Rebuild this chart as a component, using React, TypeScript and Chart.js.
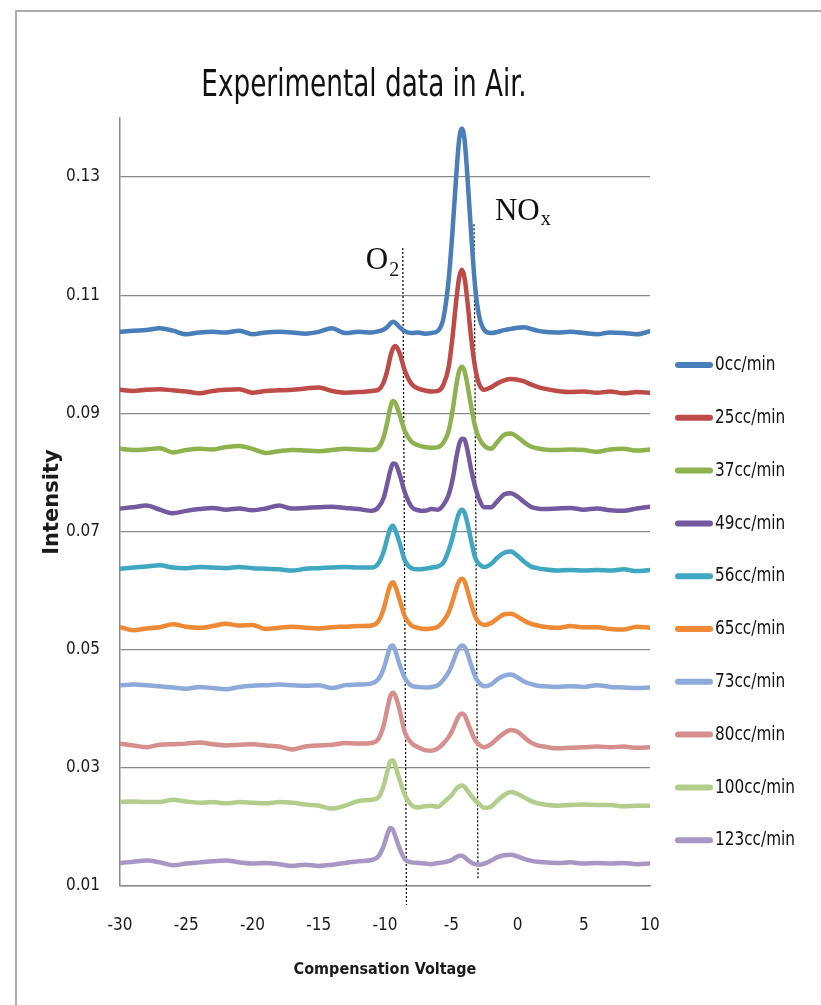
import React, { useEffect, useRef } from "react";
import { Chart, registerables } from "chart.js";

Chart.register(...registerables);

// Compensation voltage sample positions (shared by all series)
const CV = [
  -30, -29, -28, -27, -26, -25, -24, -23, -22, -21, -20, -19, -18, -17, -16, -15, -14, -13, -12,
  -11, -10.5, -10.1, -9.8, -9.6, -9.4, -9.2, -8.9, -8.5, -8, -7.5, -7, -6.5, -6,
  -5.6, -5.2, -4.9, -4.6, -4.4, -4.2, -4.0, -3.8, -3.5, -3.2, -2.9, -2.5, -2, -1.5, -1, -0.5, 0, 0.5, 1, 1.5,
  2, 3, 4, 5, 6, 7, 8, 9, 10,
];

const SERIES_LABELS = [
  "0cc/min", "25cc/min", "37cc/min", "49cc/min", "56cc/min",
  "65cc/min", "73cc/min", "80cc/min", "100cc/min", "123cc/min",
];

const FLOW_0 = [
  0.1038, 0.1040, 0.1041, 0.1044, 0.1040, 0.1034, 0.1037, 0.1038, 0.1037, 0.1040, 0.1034, 0.1037, 0.1038, 0.1037, 0.1035, 0.1038, 0.1044, 0.1036, 0.1038,
  0.1037, 0.1039, 0.1042, 0.1047, 0.1052, 0.1055, 0.1053, 0.1046, 0.1039, 0.1036, 0.1037, 0.1035, 0.1036, 0.1040,
  0.1060, 0.1125, 0.1210, 0.1310, 0.1364, 0.1382, 0.1364, 0.1308, 0.1205, 0.1115, 0.1065, 0.1041, 0.1036, 0.1038, 0.1041, 0.1043, 0.1045, 0.1046, 0.1043, 0.1040,
  0.1038, 0.1037, 0.1038, 0.1036, 0.1034, 0.1037, 0.1036, 0.1034, 0.1039,
];
const FLOW_25 = [
  0.0940, 0.0938, 0.0940, 0.0941, 0.0939, 0.0937, 0.0934, 0.0938, 0.0940, 0.0941, 0.0935, 0.0938, 0.0939, 0.0940, 0.0942, 0.0944, 0.0938, 0.0935, 0.0936,
  0.0938, 0.0940, 0.0953, 0.0975, 0.0996, 0.1010, 0.1014, 0.1002, 0.0972, 0.0950, 0.0942, 0.0939, 0.0937, 0.0938,
  0.0948, 0.0978, 0.1030, 0.1096, 0.1130, 0.1143, 0.1130, 0.1094, 0.1028, 0.0978, 0.0950, 0.0940, 0.0944, 0.0951, 0.0956, 0.0958, 0.0957, 0.0954, 0.0949, 0.0945,
  0.0942, 0.0938, 0.0936, 0.0937, 0.0935, 0.0937, 0.0934, 0.0936, 0.0935,
];
const FLOW_37 = [
  0.0840, 0.0838, 0.0839, 0.0841, 0.0834, 0.0838, 0.0840, 0.0839, 0.0843, 0.0845, 0.0840, 0.0833, 0.0836, 0.0838, 0.0837, 0.0836, 0.0838, 0.0840, 0.0839,
  0.0838, 0.0842, 0.0860, 0.0888, 0.0910, 0.0921, 0.0917, 0.0898, 0.0870, 0.0852, 0.0846, 0.0843, 0.0842, 0.0843,
  0.0850, 0.0870, 0.0905, 0.0950, 0.0972, 0.0979, 0.0972, 0.0951, 0.0912, 0.0878, 0.0858, 0.0845, 0.0840, 0.0852, 0.0864, 0.0866, 0.0860, 0.0851, 0.0844, 0.0841,
  0.0839, 0.0838, 0.0839, 0.0838, 0.0835, 0.0839, 0.0840, 0.0837, 0.0839,
];
const FLOW_49 = [
  0.0739, 0.0741, 0.0744, 0.0737, 0.0731, 0.0735, 0.0738, 0.0740, 0.0737, 0.0739, 0.0736, 0.0739, 0.0744, 0.0739, 0.0740, 0.0741, 0.0742, 0.0740, 0.0738,
  0.0735, 0.0741, 0.0757, 0.0784, 0.0803, 0.0815, 0.0814, 0.0797, 0.0766, 0.0742, 0.0736, 0.0735, 0.0738, 0.0737,
  0.0745, 0.0762, 0.0788, 0.0827, 0.0848, 0.0857, 0.0856, 0.0840, 0.0805, 0.0776, 0.0755, 0.0741, 0.0741, 0.0752, 0.0763, 0.0765, 0.0759, 0.0750, 0.0742, 0.0739,
  0.0738, 0.0739, 0.0740, 0.0737, 0.0739, 0.0736, 0.0735, 0.0739, 0.0742,
];
const FLOW_56 = [
  0.0637, 0.0639, 0.0641, 0.0643, 0.0639, 0.0638, 0.0640, 0.0639, 0.0638, 0.0640, 0.0638, 0.0637, 0.0636, 0.0634, 0.0637, 0.0638, 0.0639, 0.0640, 0.0639,
  0.0639, 0.0646, 0.0666, 0.0691, 0.0705, 0.0710, 0.0701, 0.0681, 0.0651, 0.0638, 0.0636, 0.0637, 0.0639, 0.0641,
  0.0647, 0.0668, 0.0690, 0.0718, 0.0732, 0.0737, 0.0732, 0.0716, 0.0685, 0.0656, 0.0645, 0.0640, 0.0645, 0.0656, 0.0664, 0.0666, 0.0659, 0.0649, 0.0641, 0.0638,
  0.0636, 0.0634, 0.0635, 0.0634, 0.0635, 0.0634, 0.0636, 0.0633, 0.0635,
];
const FLOW_65 = [
  0.0538, 0.0533, 0.0536, 0.0538, 0.0543, 0.0539, 0.0537, 0.0540, 0.0544, 0.0541, 0.0542, 0.0535, 0.0537, 0.0539, 0.0537, 0.0536, 0.0538, 0.0539, 0.0540,
  0.0541, 0.0548, 0.0569, 0.0595, 0.0609, 0.0614, 0.0606, 0.0585, 0.0556, 0.0541, 0.0537, 0.0535, 0.0536, 0.0539,
  0.0548, 0.0563, 0.0582, 0.0605, 0.0616, 0.0620, 0.0616, 0.0602, 0.0578, 0.0557, 0.0546, 0.0542, 0.0545, 0.0553, 0.0560, 0.0561, 0.0556, 0.0549, 0.0544, 0.0541,
  0.0539, 0.0537, 0.0540, 0.0538, 0.0538, 0.0535, 0.0534, 0.0539, 0.0537,
];
const FLOW_73 = [
  0.0440, 0.0441, 0.0440, 0.0438, 0.0436, 0.0434, 0.0437, 0.0435, 0.0433, 0.0437, 0.0439, 0.0440, 0.0441, 0.0440, 0.0439, 0.0440, 0.0435, 0.0440, 0.0441,
  0.0443, 0.0450, 0.0468, 0.0491, 0.0505, 0.0507, 0.0497, 0.0475, 0.0452, 0.0439, 0.0437, 0.0436, 0.0437, 0.0440,
  0.0449, 0.0462, 0.0477, 0.0495, 0.0503, 0.0507, 0.0505, 0.0495, 0.0474, 0.0455, 0.0444, 0.0438, 0.0441, 0.0450, 0.0456, 0.0458, 0.0453, 0.0446, 0.0442, 0.0439,
  0.0438, 0.0437, 0.0438, 0.0437, 0.0440, 0.0437, 0.0436, 0.0435, 0.0436,
];
const FLOW_80 = [
  0.0341, 0.0338, 0.0335, 0.0339, 0.0340, 0.0341, 0.0343, 0.0340, 0.0338, 0.0339, 0.0340, 0.0338, 0.0336, 0.0331, 0.0336, 0.0338, 0.0339, 0.0342, 0.0341,
  0.0342, 0.0349, 0.0372, 0.0403, 0.0421, 0.0427, 0.0421, 0.0398, 0.0360, 0.0342, 0.0335, 0.0330, 0.0329, 0.0333,
  0.0341, 0.0352, 0.0364, 0.0380, 0.0389, 0.0392, 0.0389, 0.0379, 0.0362, 0.0347, 0.0339, 0.0335, 0.0340, 0.0350, 0.0359, 0.0364, 0.0361, 0.0352, 0.0343, 0.0338,
  0.0336, 0.0333, 0.0334, 0.0335, 0.0336, 0.0335, 0.0336, 0.0334, 0.0335,
];
const FLOW_100 = [
  0.0242, 0.0243, 0.0242, 0.0242, 0.0246, 0.0243, 0.0241, 0.0242, 0.0240, 0.0242, 0.0241, 0.0240, 0.0242, 0.0241, 0.0238, 0.0236, 0.0231, 0.0236, 0.0244,
  0.0246, 0.0250, 0.0270, 0.0296, 0.0311, 0.0313, 0.0302, 0.0280, 0.0254, 0.0237, 0.0233, 0.0235, 0.0236, 0.0234,
  0.0241, 0.0249, 0.0256, 0.0265, 0.0269, 0.0270, 0.0268, 0.0262, 0.0253, 0.0245, 0.0239, 0.0232, 0.0234, 0.0245, 0.0254, 0.0259, 0.0256, 0.0250, 0.0244, 0.0240,
  0.0238, 0.0236, 0.0237, 0.0238, 0.0237, 0.0237, 0.0235, 0.0236, 0.0236,
];
const FLOW_123 = [
  0.0139, 0.0141, 0.0143, 0.0140, 0.0135, 0.0138, 0.0140, 0.0142, 0.0143, 0.0140, 0.0138, 0.0139, 0.0137, 0.0134, 0.0136, 0.0134, 0.0136, 0.0139, 0.0142,
  0.0144, 0.0150, 0.0168, 0.0189, 0.0198, 0.0195, 0.0183, 0.0164, 0.0145, 0.0140, 0.0139, 0.0138, 0.0137, 0.0139,
  0.0140, 0.0142, 0.0145, 0.0149, 0.0151, 0.0151, 0.0149, 0.0145, 0.0140, 0.0137, 0.0136, 0.0138, 0.0143, 0.0149, 0.0152, 0.0153, 0.0150, 0.0146, 0.0143, 0.0141,
  0.0140, 0.0139, 0.0140, 0.0138, 0.0139, 0.0138, 0.0139, 0.0137, 0.0138,
];

const SERIES_VALUES = [
  FLOW_0, FLOW_25, FLOW_37, FLOW_49, FLOW_56,
  FLOW_65, FLOW_73, FLOW_80, FLOW_100, FLOW_123,
];

const SERIES_COLORS = [
  "#4A7EBB", "#BE4B48", "#8DB24E", "#7559A0", "#3FA7C2",
  "#EE8A35", "#8EAADB", "#D68F8D", "#B2CD8C", "#A896C4",
];

const X_TICKS = [-30, -25, -20, -15, -10, -5, 0, 5, 10];
const Y_TICKS = [0.01, 0.03, 0.05, 0.07, 0.09, 0.11, 0.13];

// Marker lines (dotted) for the two peaks: [top, bottom] points
const O2_MARKER_X = [-8.66, -8.38];
const O2_MARKER_Y = [0.118, 0.0068];
const NOX_MARKER_X = [-3.28, -2.98];
const NOX_MARKER_Y = [0.122, 0.011];

const TITLE = "Experimental data in Air.";
const COND = "'DejaVu Sans Condensed', 'Liberation Sans', sans-serif";
const SERIF = "'Liberation Serif', 'DejaVu Serif', serif";

const overlayPlugin = {
  id: "overlay",
  afterDraw(chart: any) {
    const { ctx, chartArea, scales } = chart;
    const xs = scales.x;
    const ys = scales.y;
    ctx.save();
    // Title (horizontally condensed)
    ctx.fillStyle = "#111";
    ctx.font = `37px ${COND}`;
    ctx.textAlign = "center";
    ctx.textBaseline = "alphabetic";
    ctx.save();
    ctx.translate(356, 88);
    ctx.scale(0.79, 1);
    ctx.fillText(TITLE, 0, 0);
    ctx.restore();

    // Peak labels
    ctx.textAlign = "left";
    ctx.font = `31px ${SERIF}`;
    const ox = xs.getPixelForValue(-11.45);
    const oy = ys.getPixelForValue(0.1144);
    ctx.fillText("O", ox, oy);
    const ow = ctx.measureText("O").width;
    ctx.font = `20px ${SERIF}`;
    ctx.fillText("2", ox + ow + 1, oy + 7);

    ctx.font = `31px ${SERIF}`;
    const nx = xs.getPixelForValue(-1.7);
    const ny = ys.getPixelForValue(0.1227);
    ctx.fillText("NO", nx, ny);
    const nw = ctx.measureText("NO").width;
    ctx.font = `20px ${SERIF}`;
    ctx.fillText("x", nx + nw + 1, ny + 5);

    // Legend
    ctx.font = `20px ${COND}`;
    ctx.textBaseline = "middle";
    const lx = chartArea.right + 25;
    SERIES_LABELS.forEach((label, i) => {
      const y = chartArea.top + 247 + i * 52.8;
      ctx.strokeStyle = SERIES_COLORS[i];
      ctx.lineWidth = 6;
      ctx.lineCap = "round";
      ctx.beginPath();
      ctx.moveTo(lx + 3, y);
      ctx.lineTo(lx + 35, y);
      ctx.stroke();
      ctx.fillStyle = "#111";
      ctx.save();
      ctx.translate(lx + 40, y);
      ctx.scale(0.85, 1);
      ctx.fillText(label, 0, 0);
      ctx.restore();
    });
    ctx.restore();
  },
};

export default function App() {
  const canvasRef = useRef<HTMLCanvasElement | null>(null);

  useEffect(() => {
    if (!canvasRef.current) return;
    const seriesSets = SERIES_VALUES.map((vals, i) => ({
      label: SERIES_LABELS[i],
      data: CV.map((x, j) => ({ x, y: vals[j] })),
      borderColor: SERIES_COLORS[i],
      backgroundColor: SERIES_COLORS[i],
      borderWidth: 4.5,
      pointRadius: 0,
      cubicInterpolationMode: "monotone" as const,
      borderCapStyle: "round" as const,
      borderJoinStyle: "round" as const,
      fill: false,
    }));
    const markerSet = (xArr: number[], yArr: number[], label: string) => ({
      label,
      data: xArr.map((x, j) => ({ x, y: yArr[j] })),
      borderColor: "#000",
      borderWidth: 1.2,
      borderDash: [2, 2],
      pointRadius: 0,
      clip: false as any,
      fill: false,
    });
    const chart = new Chart(canvasRef.current, {
      type: "line",
      data: {
        datasets: [
          ...seriesSets,
          markerSet(O2_MARKER_X, O2_MARKER_Y, "O2 marker"),
          markerSet(NOX_MARKER_X, NOX_MARKER_Y, "NOx marker"),
        ],
      },
      options: {
        responsive: false,
        animation: false,
        layout: { padding: { left: 12, top: 110, right: 163, bottom: 11 } },
        plugins: {
          legend: { display: false },
          tooltip: { enabled: false },
          title: { display: false },
        },
        scales: {
          x: {
            type: "linear",
            min: -30,
            max: 10,
            afterBuildTicks: (scale: any) => {
              scale.ticks = X_TICKS.map((v) => ({ value: v }));
            },
            afterFit: (scale: any) => {
              scale.height = 100;
            },
            grid: { display: false, drawTicks: false },
            border: { display: true, color: "#8a8a8a", width: 1.5 },
            ticks: {
              padding: 29,
              color: "#1a1a1a",
              font: { family: COND, size: 17 },
              maxRotation: 0,
            },
            title: {
              display: true,
              text: "Compensation Voltage",
              color: "#1a1a1a",
              font: { family: COND, size: 16, weight: "bold" },
              padding: { top: 0, bottom: 7 },
            },
          },
          y: {
            type: "linear",
            min: 0.01,
            max: 0.14,
            afterBuildTicks: (scale: any) => {
              scale.ticks = Y_TICKS.map((v) => ({ value: v }));
            },
            afterFit: (scale: any) => {
              scale.width = 100;
            },
            grid: { color: "#8a8a8a", lineWidth: 1.3, drawTicks: false },
            border: { display: true, color: "#8a8a8a", width: 1.5 },
            ticks: {
              padding: 20,
              color: "#1a1a1a",
              font: { family: COND, size: 17 },
              callback: (v: any) => Number(v).toFixed(2),
            },
            title: {
              display: true,
              text: "Intensity",
              color: "#1a1a1a",
              font: { family: "'DejaVu Sans', sans-serif", size: 21, weight: "bold" },
              padding: { top: 20, bottom: 0 },
            },
          },
        },
      },
      plugins: [overlayPlugin],
    });
    return () => chart.destroy();
  }, []);

  return (
    <div style={{ position: "relative", width: 821, height: 1005 }}>
      <style>{"html,body{margin:0;overflow:hidden}"}</style>
      <div
        style={{
          position: "absolute",
          left: 15,
          top: 10,
          right: 0,
          bottom: 0,
          borderLeft: "2px solid #acacac",
          borderTop: "2px solid #acacac",
        }}
      />
      <canvas
        ref={canvasRef}
        width={805}
        height={989}
        style={{ position: "absolute", left: 8, top: 8 }}
      />
    </div>
  );
}
